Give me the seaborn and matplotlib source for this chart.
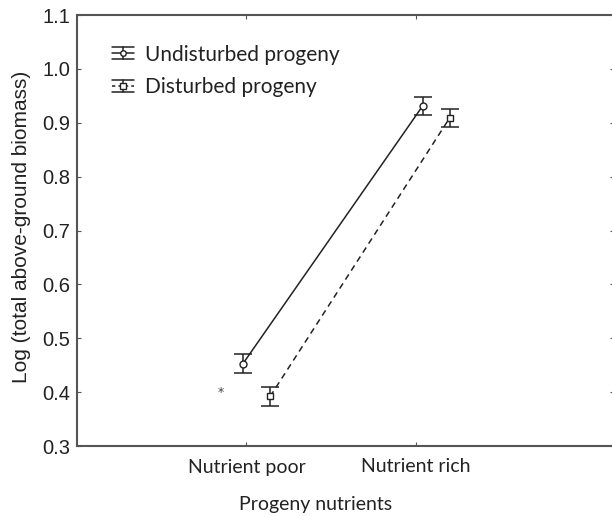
import matplotlib
matplotlib.use("Agg")
import matplotlib.pyplot as plt
from matplotlib.lines import Line2D
from matplotlib.legend_handler import HandlerBase
import numpy as np
import pandas as pd
import seaborn as sns

# Group means and standard errors of log biomass
nutrients = ["Nutrient poor", "Nutrient rich"]
undisturbed_mean = [0.453, 0.931]
undisturbed_se = [0.017, 0.016]
disturbed_mean = [0.392, 0.909]
disturbed_se = [0.017, 0.016]
series_names = ["Undisturbed progeny", "Disturbed progeny"]
yticks = [0.3, 0.4, 0.5, 0.6, 0.7, 0.8, 0.9, 1.0, 1.1]

# horizontal offsets so the two series do not overlap
offsets = {"Undisturbed progeny": [-0.02, 0.04], "Disturbed progeny": [0.14, 0.20]}

rows = []
for name, means, ses in [(series_names[0], undisturbed_mean, undisturbed_se),
                         (series_names[1], disturbed_mean, disturbed_se)]:
    for i, (m, s) in enumerate(zip(means, ses)):
        rows.append({"series": name, "nutrient": nutrients[i],
                     "xpos": i + offsets[name][i], "value": m, "se": s})
df = pd.DataFrame(rows)


class HandlerMeanSE(HandlerBase):
    """Legend key: line + marker with a capped vertical error bar."""

    def create_artists(self, legend, orig, xdescent, ydescent, width, height,
                       fontsize, trans):
        x0, x1 = -xdescent, -xdescent + width
        xc = (x0 + x1) / 2
        yc = -ydescent + height / 2
        half = 4.4
        col = orig.get_color()
        lwid = orig.get_linewidth()
        line = Line2D([x0, x1], [yc, yc], color=col, linewidth=lwid,
                      linestyle=orig.get_linestyle())
        if orig.get_linestyle() in ("--", "dashed"):
            line.set_dashes((2.2, 2.0))
        bar = Line2D([xc, xc], [yc - half, yc + half], color=col, linewidth=lwid)
        cap_lo = Line2D([x0, x1], [yc - half, yc - half], color=col, linewidth=lwid)
        cap_hi = Line2D([x0, x1], [yc + half, yc + half], color=col, linewidth=lwid)
        mark = Line2D([xc], [yc], linestyle="none", marker=orig.get_marker(),
                      markersize=orig.get_markersize(), markerfacecolor="white",
                      markeredgecolor=col, markeredgewidth=1.0)
        arts = [line, bar, cap_lo, cap_hi, mark]
        for a in arts:
            a.set_transform(trans)
        return arts


sns.set_style("ticks")
plt.rcParams["font.family"] = ["Lato", "DejaVu Sans"]

fig = plt.figure(figsize=(6.12, 5.17), dpi=100)
ax = fig.add_axes([77 / 612, 71 / 517, (614 - 77) / 612, (446 - 15) / 517])

ink = "#222222"
styles = {"Undisturbed progeny": ("-", "o"), "Disturbed progeny": ("--", "s")}
lw = 1.1

sns.lineplot(data=df, x="xpos", y="value", style="series",
             dashes={"Undisturbed progeny": "", "Disturbed progeny": (4, 3)},
             markers=False, color=ink, linewidth=lw, legend=False,
             sort=False, ax=ax)

handles = []
for name in series_names:
    sub = df[df["series"] == name]
    ls, mk = styles[name]
    ax.errorbar(sub["xpos"], sub["value"], yerr=sub["se"], fmt="none",
                ecolor=ink, elinewidth=lw, capsize=6.5, capthick=lw)
    ax.plot(sub["xpos"], sub["value"], linestyle="none", marker=mk,
            markersize=5 if mk == "o" else 4.6, markerfacecolor="white",
            markeredgecolor=ink, markeredgewidth=1.0, zorder=5)
    handles.append(Line2D([], [], color=ink, linestyle=ls, linewidth=lw,
                          marker=mk, markersize=4))

# significance marker
ax.text(-0.15, 0.40, "*", ha="center", va="center", fontsize=9,
        family="DejaVu Sans", color="#444444")

ax.set_xlim(-1.0, 2.17)
ax.set_ylim(0.3, 1.1)
ax.set_xticks([0, 1])
ax.set_xticklabels(nutrients, fontsize=14, color=ink)
ax.set_yticks(yticks)
ax.set_yticklabels([f"{v:.1f}" for v in yticks], family="Liberation Sans",
                   fontsize=14.5, color=ink)
ax.tick_params(axis="both", direction="in", length=3, width=0.8, color="#555555",
               top=True, right=True, pad=5)
ax.tick_params(axis="x", pad=9)
for sp in ax.spines.values():
    sp.set_linewidth(1.5)
    sp.set_color("#555555")
    sp.set_visible(True)

ax.set_xlabel("Progeny nutrients", fontsize=14, color=ink)
ax.xaxis.set_label_coords((316 - 77) / 537, -0.117)
ax.set_ylabel("Log (total above-ground biomass)", family="Liberation Sans",
              fontsize=15, color=ink)
ax.yaxis.set_label_coords(-0.086, 0.5 + 4 / 431)

ax.legend(handles, series_names, handler_map={Line2D: HandlerMeanSE()},
          loc="upper left", bbox_to_anchor=(0.03, 0.975), frameon=False,
          fontsize=15, handlelength=1.05, handleheight=0.7, labelspacing=0.62,
          handletextpad=0.55, labelcolor=ink)

fig.savefig("out.png", dpi=100)
